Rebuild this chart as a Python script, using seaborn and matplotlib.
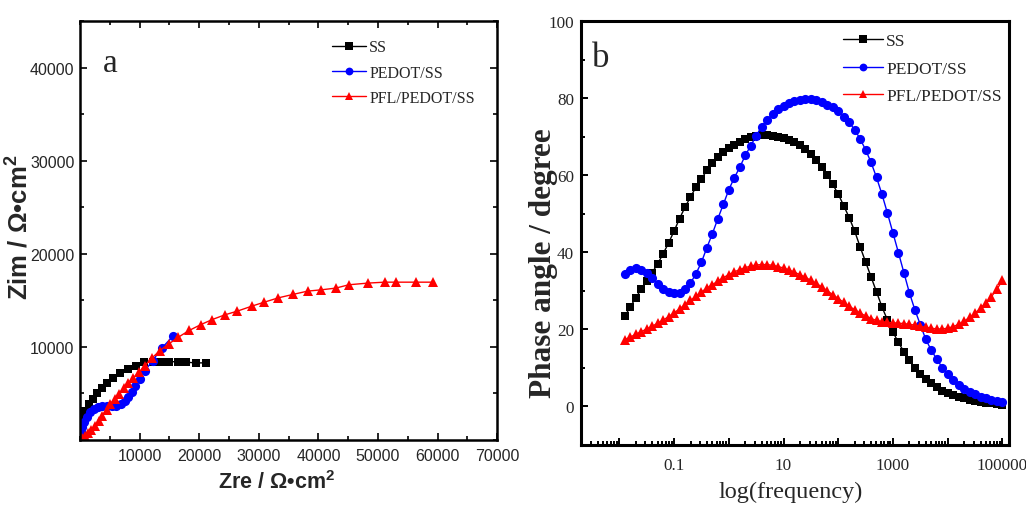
import numpy as np
import pandas as pd
import matplotlib
matplotlib.use("Agg")
import matplotlib.pyplot as plt
import matplotlib.ticker as mticker
import seaborn as sns

# ---------------- data ----------------
labels = ["SS", "PEDOT/SS", "PFL/PEDOT/SS"]
colors = ["#000000", "#0000FF", "#FF0000"]
markers = ["s", "o", "^"]

# Nyquist plot (Zre, Zim) in ohm*cm^2, from high to low frequency
ss_zre = [100, 200, 500, 900, 1500, 2100, 2900, 3700, 4600, 5500, 6700,
          8000, 9400, 10800, 12200, 13600, 15000, 16500, 17800, 19500, 21100]
ss_zim = [820, 1540, 2440, 3150, 3870, 4410, 5020, 5590, 6130, 6670, 7200,
          7630, 7990, 8420, 8420, 8420, 8420, 8390, 8350, 8280, 8280]

pedot_zre = [100, 300, 600, 1100, 1700, 2300, 3000, 3700, 4600, 5400, 6100,
             6800, 7500, 8000, 8700, 9300, 10100, 10900, 12200, 13700, 15600]
pedot_zim = [820, 1360, 1900, 2440, 2970, 3330, 3510, 3620, 3620, 3620, 3690,
             3870, 4230, 4590, 5200, 5840, 6560, 7460, 8530, 9860, 11150]

pfl_zre = [100, 250, 400, 800, 1300, 1900, 2500, 3200, 3700, 4500, 5100, 5800,
           6500, 7300, 8100, 8900, 9900, 10900, 12100, 13400, 14900, 16500,
           18300, 20300, 22200, 24300, 26400, 28800, 30900, 33300, 35700,
           38200, 40500, 42900, 45100, 48300, 51100, 53100, 56400, 59300]
pfl_zim = [50, 100, 180, 390, 720, 1110, 1540, 2080, 2620, 3260, 3870, 4410,
           4950, 5560, 6130, 6670, 7280, 7990, 8820, 9610, 10320, 11040,
           11760, 12400, 12940, 13440, 13840, 14370, 14800, 15270, 15630,
           15990, 16130, 16310, 16670, 16850, 16950, 16950, 16950, 16950]

# Bode phase plot: 10 points per decade, 10^-1.9 ... 10^5 Hz
log_freq = [round(-1.9 + 0.1 * i, 1) for i in range(70)]
ss_phase = [23.4, 25.8, 28.2, 30.4, 32.5, 34.7, 37.0, 39.6, 42.4, 45.5,
            48.7, 51.7, 54.3, 56.9, 59.0, 61.3, 63.2, 64.8, 66.1, 67.1,
            67.9, 68.7, 69.3, 69.8, 70.1, 70.3, 70.3, 70.2, 70.0, 69.6,
            69.1, 68.5, 67.8, 66.9, 65.6, 63.9, 62.0, 60.0, 57.6, 55.1,
            52.1, 49.0, 45.5, 41.4, 37.5, 33.6, 29.7, 25.8, 22.4, 19.3,
            16.6, 14.2, 12.0, 10.1, 8.5, 7.2, 6.0, 5.0, 4.1, 3.4,
            2.9, 2.5, 2.1, 1.8, 1.5, 1.2, 1.0, 0.8, 0.6, 0.4]
pedot_phase = [34.4, 35.3, 35.9, 35.5, 34.7, 33.3, 31.8, 30.5, 29.7, 29.3,
               29.5, 30.4, 32.0, 34.4, 37.4, 41.2, 44.8, 48.7, 52.4, 56.2,
               59.3, 62.0, 65.1, 67.6, 70.2, 72.6, 74.4, 75.8, 77.1, 78.0,
               78.6, 79.2, 79.6, 79.7, 79.7, 79.5, 79.0, 78.3, 77.6, 76.6,
               75.2, 73.7, 71.8, 69.4, 66.6, 63.3, 59.4, 55.0, 50.1, 45.0,
               39.9, 34.7, 29.5, 25.1, 21.2, 17.4, 14.6, 12.3, 10.1, 8.3,
               6.8, 5.5, 4.5, 3.7, 3.1, 2.5, 2.1, 1.7, 1.4, 1.1]
pfl_phase = [17.3, 18.0, 18.7, 19.4, 20.1, 20.8, 21.6, 22.4, 23.3, 24.3,
             25.3, 26.4, 27.5, 28.6, 29.7, 30.7, 31.6, 32.5, 33.4, 34.2,
             34.9, 35.5, 36.0, 36.4, 36.7, 36.8, 36.8, 36.6, 36.3, 35.9,
             35.4, 34.8, 34.2, 33.5, 32.7, 31.9, 31.0, 30.0, 29.0, 28.0,
             27.0, 26.0, 25.1, 24.2, 23.5, 22.8, 22.3, 22.0, 21.8, 21.7,
             21.6, 21.5, 21.3, 21.1, 20.8, 20.5, 20.3, 20.1, 20.1, 20.3,
             20.7, 21.3, 22.1, 23.1, 24.2, 25.5, 26.9, 28.5, 30.4, 32.7]

nyquist = [(ss_zre, ss_zim), (pedot_zre, pedot_zim), (pfl_zre, pfl_zim)]
phases = [ss_phase, pedot_phase, pfl_phase]

# ---------------- style ----------------
sns.set_style("ticks")
plt.rcParams["font.family"] = ["Liberation Serif", "DejaVu Serif"]
plt.rcParams["mathtext.fontset"] = "custom"
plt.rcParams["mathtext.rm"] = "Liberation Sans"
plt.rcParams["mathtext.bf"] = "Liberation Sans:bold"

SANS = ["Liberation Sans", "DejaVu Sans"]
SERIF = ["Liberation Serif", "DejaVu Serif"]

fig = plt.figure(figsize=(10.26, 5.06), dpi=100)
ax1 = fig.add_axes([0.078, 0.1285, 0.4066, 0.828])
ax2 = fig.add_axes([0.5663, 0.1186, 0.4171, 0.838])

marker_sizes = {"s": 6.0, "o": 6.6, "^": 7.4}

# ---------------- (a) Nyquist ----------------
for (zre, zim), lab, col, mk in zip(nyquist, labels, colors, markers):
    df = pd.DataFrame({"Zre": zre, "Zim": zim})
    sns.lineplot(data=df, x="Zre", y="Zim", ax=ax1, sort=False,
                 estimator=None, color=col, marker=mk,
                 markersize=marker_sizes[mk], markeredgewidth=0,
                 linewidth=1.0, label=lab)

ax1.set_xlim(0, 70000)
ax1.set_ylim(0, 45000)
ax1.xaxis.set_major_locator(mticker.FixedLocator(np.arange(10000, 70001, 10000)))
ax1.xaxis.set_minor_locator(mticker.MultipleLocator(5000))
ax1.yaxis.set_major_locator(mticker.FixedLocator(np.arange(10000, 40001, 10000)))
ax1.yaxis.set_minor_locator(mticker.MultipleLocator(5000))
ax1.tick_params(which="both", direction="in", top=True, right=True,
                width=1.2, color="#000000")
ax1.tick_params(which="major", length=5)
ax1.tick_params(which="minor", length=3)
ax1.tick_params(axis="x", pad=6)
ax1.tick_params(axis="y", pad=4)
for t in ax1.get_xticklabels() + ax1.get_yticklabels():
    t.set_family(SANS)
    t.set_fontsize(11.5)

ax1.set_xlabel(r"Zre / Ω•cm$^\mathbf{2}$", family=SANS, fontsize=15.5,
               fontweight="bold")
ax1.set_ylabel(r"Zim / Ω•cm$^\mathbf{2}$", family=SANS, fontsize=18.5,
               fontweight="bold")
ax1.xaxis.set_label_coords(0.472, -0.072)
ax1.yaxis.set_label_coords(-0.116, 0.51)

ax1.text(0.072, 0.9, "a", transform=ax1.transAxes, family=SERIF,
         fontsize=24, ha="center", va="center")

ax1.legend(loc="upper left", bbox_to_anchor=(0.605, 0.956),
           frameon=False, prop={"family": SERIF, "size": 11.5},
           handlelength=2.1, handletextpad=0.2, labelspacing=0.58,
           borderpad=0, borderaxespad=0, markerscale=0.85)

# ---------------- (b) Bode phase ----------------
for ph, lab, col, mk in zip(phases, labels, colors, markers):
    df = pd.DataFrame({"freq": np.power(10.0, log_freq), "phase": ph})
    sns.lineplot(data=df, x="freq", y="phase", ax=ax2, sort=False,
                 estimator=None, color=col, marker=mk,
                 markersize=marker_sizes[mk], markeredgewidth=0,
                 linewidth=1.0, label=lab)

ax2.set_xscale("log")
ax2.set_xlim(10 ** -2.70, 10 ** 5.12)
ax2.set_ylim(-10, 100)
ax2.xaxis.set_major_locator(mticker.FixedLocator([10.0 ** k for k in range(-2, 6)]))
ax2.xaxis.set_minor_locator(mticker.LogLocator(base=10, subs=np.arange(2, 10), numticks=20))
shown = {0.1: "0.1", 10.0: "10", 1000.0: "1000", 100000.0: "100000"}


def phase_freq_label(v, pos):
    for key, txt in shown.items():
        if abs(np.log10(v) - np.log10(key)) < 1e-6:
            return txt
    return ""


ax2.xaxis.set_major_formatter(mticker.FuncFormatter(phase_freq_label))
ax2.xaxis.set_minor_formatter(mticker.NullFormatter())
ax2.yaxis.set_major_locator(mticker.MultipleLocator(20))
ax2.yaxis.set_minor_locator(mticker.MultipleLocator(10))
ax2.tick_params(which="both", direction="in", width=1.4, color="#000000")
ax2.tick_params(which="major", length=5)
ax2.tick_params(which="minor", length=3)
ax2.tick_params(axis="x", pad=9)
ax2.tick_params(axis="y", pad=5)
for t in ax2.get_xticklabels() + ax2.get_yticklabels():
    t.set_family(SERIF)
    t.set_fontsize(12.3)

ax2.set_xlabel("log(frequency)", family=SERIF, fontsize=17.5)
ax2.set_ylabel("Phase angle / degree", family=SERIF, fontsize=22.5,
               fontweight="bold")
ax2.xaxis.set_label_coords(0.49, -0.085)
ax2.yaxis.set_label_coords(-0.053, 0.43)

ax2.text(0.045, 0.915, "b", transform=ax2.transAxes, family=SERIF,
         fontsize=25, ha="center", va="center")

ax2.legend(loc="upper left", bbox_to_anchor=(0.612, 0.972),
           frameon=False, prop={"family": SERIF, "size": 12.5},
           handlelength=2.3, handletextpad=0.2, labelspacing=0.66,
           borderpad=0, borderaxespad=0, markerscale=0.85)

for ax, lw in ((ax1, 1.8), (ax2, 2.2)):
    for sp in ax.spines.values():
        sp.set_visible(True)
        sp.set_linewidth(lw)
        sp.set_color("#000000")

fig.savefig("out.png", dpi=100)
